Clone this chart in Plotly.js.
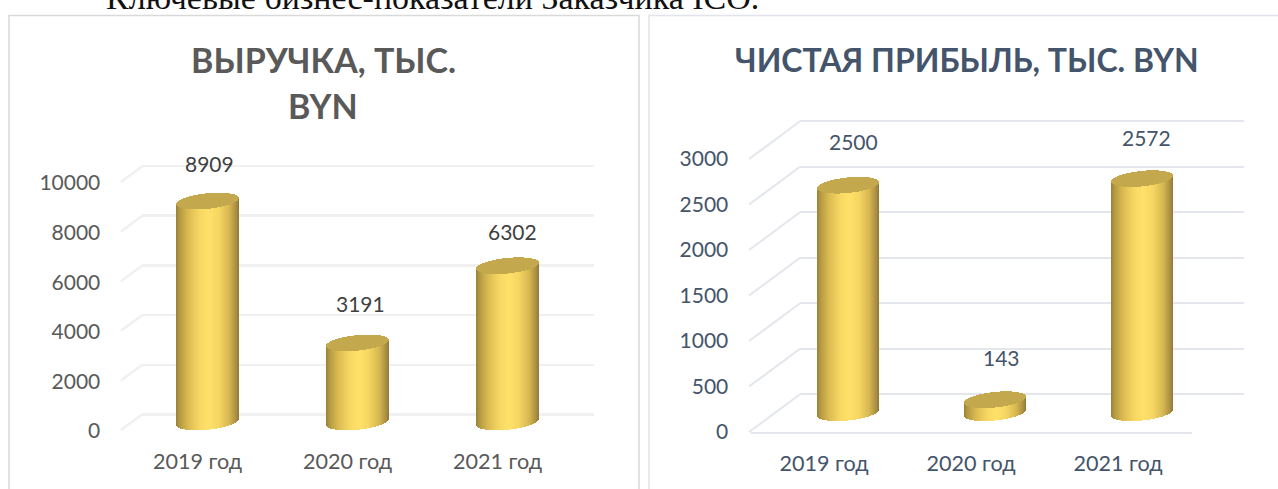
<!DOCTYPE html>
<html><head><meta charset="utf-8">
<script src="https://cdn.plot.ly/plotly-3.0.1.min.js"></script>
<style>html,body{margin:0;padding:0;background:#fff;overflow:hidden}#c{width:1278px;height:489px}</style>
</head><body><div id="c"></div>
<script>
// ---- data ----
const categories = ['2019 год','2020 год','2021 год'];
const revenue = [8909,3191,6302];
const profit = [2500,143,2572];
const revenueTicks = [0,2000,4000,6000,8000,10000];
const profitTicks = [0,500,1000,1500,2000,2500,3000];
const revenueTitle = ['ВЫРУЧКА, ТЫС.','BYN'];
const profitTitle = ['ЧИСТАЯ ПРИБЫЛЬ, ТЫС. BYN'];
const headerText = 'Ключевые бизнес-показатели Заказчика ICO.';

// ---- page geometry (pixels) ----
const W=1278,H=489;
const FONT='Lato, "Open Sans", sans-serif';
const fx=p=>p/W, fy=p=>1-p/H;
const dx=(a,b)=>[fx(a),fx(b)], dy=(bottom,top)=>[fy(bottom),fy(top)];

const tickFont=(c,s)=>({family:FONT,size:s||21,color:c});
function hidden(extra){return Object.assign({visible:false,fixedrange:true},extra);}

const layout={
  width:W,height:H,margin:{l:0,r:0,t:0,b:0},showlegend:false,
  paper_bgcolor:'#fff',plot_bgcolor:'rgba(0,0,0,0)',bargap:0,
  // back walls (ranges run a little past the outer ticks so the outer gridlines are drawn)
  xaxis:{domain:dx(142,594),range:[0,1],anchor:'y',showticklabels:false,ticks:'',showgrid:false,zeroline:false,showline:false},
  yaxis:{domain:dy(424.42,156.08),range:[-400,10400],anchor:'x',tickvals:revenueTicks,showticklabels:false,ticks:'',showgrid:true,gridcolor:'#f0f0f0',gridwidth:2.5,zeroline:false,showline:false},
  xaxis2:{domain:dx(800,1244),range:[0,1],anchor:'y2',showticklabels:false,ticks:'',showgrid:false,zeroline:false,showline:false},
  yaxis2:{domain:dy(403.4,111.9),range:[-100,3100],anchor:'x2',tickvals:profitTicks,showticklabels:false,ticks:'',showgrid:true,gridcolor:'#e3e6ec',gridwidth:2,zeroline:false,showline:false},
  // front planes carrying the labels
  xaxis3:{domain:dx(122.5,572.5),range:[-0.5,2.5],anchor:'y3',tickvals:[0,1,2],ticktext:categories,tickfont:tickFont('#595959',21.6),ticks:'outside',ticklen:11,tickcolor:'rgba(0,0,0,0)',showgrid:false,zeroline:false,showline:false},
  yaxis3:{domain:dy(431,183),range:[0,10000],anchor:'x3',tickvals:revenueTicks,tickformat:'d',tickfont:tickFont('#595959'),ticks:'outside',ticklen:17,tickcolor:'rgba(0,0,0,0)',showgrid:false,zeroline:false,showline:false},
  xaxis4:{domain:dx(750.5,1191.5),range:[-0.5,2.5],anchor:'y4',tickvals:[0,1,2],ticktext:categories,tickfont:tickFont('#44546a',21.6),ticks:'outside',ticklen:11,tickcolor:'rgba(0,0,0,0)',showgrid:false,zeroline:false,showline:true,linecolor:'#e3e6ec',linewidth:2},
  yaxis4:{domain:dy(432,159),range:[0,3000],anchor:'x4',tickvals:profitTicks,tickformat:'d',tickfont:tickFont('#44546a'),ticks:'outside',ticklen:17,tickcolor:'rgba(0,0,0,0)',showgrid:false,zeroline:false,showline:false},
  // cylinders (headroom below zero keeps the rounded base inside the clip)
  xaxis5:hidden({domain:dx(132.5,582.5),range:[-0.5,2.5],anchor:'y5'}),
  yaxis5:hidden({domain:dy(446.8,149.2),range:[-1000,11000],anchor:'x5'}),
  xaxis6:hidden({domain:dx(774.5,1215.5),range:[-0.5,2.5],anchor:'y6'}),
  yaxis6:hidden({domain:dy(430.9,121.5),range:[-200,3200],anchor:'x6'}),
  shapes:[],annotations:[]
};

// panel frames
function rect(x0,y0,x1,y1,c){return {type:'rect',xref:'paper',yref:'paper',x0:fx(x0),x1:fx(x1),y0:fy(y0),y1:fy(y1),line:{color:c,width:1.5},fillcolor:'#fff',layer:'below'};}
layout.shapes.push(rect(9,15.5,639,500,'#d9d9d9'));
layout.shapes.push(rect(649,15.5,1290,500,'#e1e4ea'));

// side walls: each tick joined from the front plane to the back wall
function sideLines(ticks,max,fx0,fy0,fySpan,bx0,by0,color,w){
  ticks.forEach(t=>{
    layout.shapes.push({type:'line',xref:'paper',yref:'paper',layer:'below',
      x0:fx(fx0),x1:fx(bx0),
      y0:fy(fy0-t/max*fySpan),y1:fy(by0-t/max*fySpan),
      line:{color:color,width:w}});
  });
}
sideLines(revenueTicks,10000,121,430,248,142,414.5,'#f0f0f0',2.5);
sideLines(profitTicks,3000,749,432,273,800,394.3,'#e3e6ec',2);

// texts
function pageText(text,xp,yp,font){layout.annotations.push({xref:'paper',yref:'paper',x:fx(xp),y:fy(yp),text:text,showarrow:false,xanchor:'center',yanchor:'middle',font:font});}
const tl={family:FONT,size:34,color:'#595959',weight:700};
const tr={family:FONT,size:32,color:'#44546a',weight:700};
pageText(revenueTitle[0],323,59,tl);
pageText(revenueTitle[1],323,106,tl);
pageText(profitTitle[0],967,60,tr);
layout.annotations.push({xref:'paper',yref:'paper',x:fx(104),y:fy(18),xanchor:'left',yanchor:'bottom',text:headerText,showarrow:false,font:{family:'"Liberation Serif",serif',size:34,color:'#111'}});

// value labels
const labelShiftRev=[[2,37.5],[3,39.5],[5,34.5]], labelShiftPro=[[5,44],[6,42],[4,41]];
function valueLabels(vals,xa,ya,shifts,color){
  vals.forEach((v,i)=>layout.annotations.push({xref:xa,yref:ya,x:i,y:v,text:String(v),showarrow:false,xanchor:'center',yanchor:'middle',xshift:shifts[i][0],yshift:shifts[i][1],font:{family:FONT,size:21,color:color}}));
}
valueLabels(revenue,'x5','y5',labelShiftRev,'#404040');
valueLabels(profit,'x6','y6',labelShiftPro,'#44546a');

const idx=[0,1,2];
const carrier=(xa,ya)=>({type:'scatter',mode:'none',x:[0],y:[0],xaxis:xa,yaxis:ya,hoverinfo:'skip'});
const data=[
  carrier('x','y'),carrier('x2','y2'),carrier('x3','y3'),carrier('x4','y4'),
  {type:'bar',x:idx,y:revenue,xaxis:'x5',yaxis:'y5',width:63/150,marker:{color:'#ffe169'},hoverinfo:'skip',name:'Выручка'},
  {type:'bar',x:idx,y:profit,xaxis:'x6',yaxis:'y6',width:62/147,marker:{color:'#ffe169'},hoverinfo:'skip',name:'Чистая прибыль'}
];

Plotly.newPlot('c',data,layout,{displayModeBar:false,staticPlot:true}).then(()=>{
  const svg=document.querySelector('#c .main-svg');
  const NS='http://www.w3.org/2000/svg';
  const defs=svg.querySelector('defs');
  const grad=document.createElementNS(NS,'linearGradient');
  grad.id='cylGrad';grad.setAttribute('x1','0');grad.setAttribute('x2','1');grad.setAttribute('y1','0');grad.setAttribute('y2','0');
  [[0,'#9a8038'],[0.06,'#b59a42'],[0.2,'#dcbc52'],[0.38,'#f8d863'],[0.52,'#ffe169'],[0.68,'#f6d562'],[0.84,'#d6b852'],[0.95,'#ad9040'],[1,'#8f773a']].forEach(s=>{
    const st=document.createElementNS(NS,'stop');st.setAttribute('offset',s[0]);st.setAttribute('stop-color',s[1]);grad.appendChild(st);
  });
  defs.appendChild(grad);
  const B=7.8,TILT=3;   // ellipse half height and lean, px
  const pt=(cx,cy,a,t)=>[cx+a*Math.cos(t),cy+B*Math.sin(t)-TILT*Math.cos(t)];
  document.querySelectorAll('#c .barlayer .point path').forEach(p=>{
    const b=p.getBBox();
    const a=b.width/2,cx=b.x+a,yT=b.y,yB=b.y+b.height;
    const N=36;let d='';
    for(let i=0;i<=N;i++){const q=pt(cx,yB,a,Math.PI*i/N);d+=(i?'L':'M')+q[0].toFixed(2)+','+q[1].toFixed(2);}
    for(let i=0;i<=N;i++){const q=pt(cx,yT,a,Math.PI+Math.PI*i/N);d+='L'+q[0].toFixed(2)+','+q[1].toFixed(2);}
    p.setAttribute('d',d+'Z');
    p.style.fill='url(#cylGrad)';p.style.stroke='none';
    let e='';
    for(let i=0;i<=2*N;i++){const q=pt(cx,yT,a,Math.PI*i/N);e+=(i?'L':'M')+q[0].toFixed(2)+','+q[1].toFixed(2);}
    const top=document.createElementNS(NS,'path');
    top.setAttribute('d',e+'Z');top.setAttribute('fill','#c3a84e');
    p.parentNode.appendChild(top);
  });
});
</script></body></html>
